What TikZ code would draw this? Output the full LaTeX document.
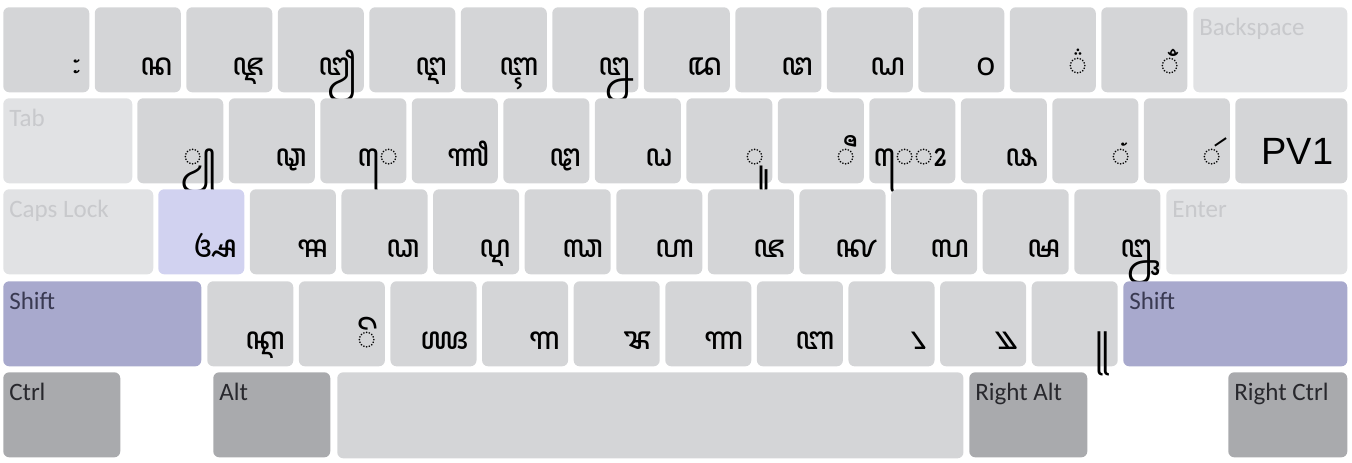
\documentclass[tikz,border=0pt]{standalone}
\usepackage{fontspec}
\setmainfont{Carlito}
\newfontfamily\pvfont{Liberation Sans}
\IfFontExistsTF{Noto Sans Javanese}
  {\newfontfamily\javfont[Script=Javanese]{Noto Sans Javanese}}
  {\newfontfamily\javfont{DejaVu Sans}}
\usetikzlibrary{positioning}

\definecolor{keygray}{RGB}{212,213,215}
\definecolor{dimfill}{RGB}{225,226,228}
\definecolor{dimtext}{RGB}{200,201,204}
\definecolor{shiftfill}{RGB}{168,169,205}
\definecolor{shifttext}{RGB}{58,58,82}
\definecolor{ctrlfill}{RGB}{169,170,173}
\definecolor{ctrltext}{RGB}{40,40,45}
\definecolor{hotfill}{RGB}{209,210,240}

\tikzset{
  keycap/.style={fill=keygray, rounded corners=0.15cm, anchor=north west,
    inner sep=0pt, minimum width=2.15cm, minimum height=2.125cm},
  hotkey/.style={keycap, fill=hotfill},
  dimkey/.style={keycap, fill=dimfill},
  shiftkey/.style={keycap, fill=shiftfill},
  ctrlkey/.style={keycap, fill=ctrlfill},
  glyph/.style={inner sep=0pt, anchor=base east, font=\javfont\fontsize{23}{26}\selectfont},
  keylabel/.style={inner sep=0pt, anchor=base west, font=\fontsize{17.8}{20}\selectfont}
}

% glyph key: [style]{name}{x}{y}{text}
\newcommand{\jkey}[5][keycap]{%
  \node[#1] (#2) at (#3,#4) {};
  \node[glyph] at ([xshift=-0.2cm, yshift=0.425cm]#2.south east) {#5};}
% function key: {style}{text colour}{name}{x}{y}{width}{label}
\newcommand{\fkey}[7]{%
  \node[#1, minimum width={#6*0.025cm}] (#3) at (#4,#5) {};
  \node[keylabel, text=#2] at ([xshift=0.15cm, yshift=-0.7cm]#3.north west) {#7};}

\begin{document}
\begin{tikzpicture}[x=0.025cm, y=-0.025cm]
\useasboundingbox (0,0) rectangle (1352,462);

% number row
\jkey{kgrave}{3}{7}{꧇}
\jkey{kone}{94.5}{7}{ꦤ}
\jkey{ktwo}{186}{7}{ꦘ}
\jkey{kthree}{277.5}{7}{ꦙ}
\jkey{kfour}{369}{7}{ꦅ}
\jkey{kfive}{460.5}{7}{ꦇ}
\jkey{ksix}{552}{7}{ꦊ}
\jkey{kseven}{643.5}{7}{ꦢ}
\jkey{keight}{735}{7}{ꦜ}
\jkey{knine}{826.5}{7}{ꦝ}
\jkey{kzero}{918}{7}{꧐}
\jkey{kminus}{1009.5}{7}{◌꦳}
\jkey{kequal}{1101}{7}{◌ꦀ}
\fkey{dimkey}{dimtext}{kbksp}{1193}{7}{154}{Backspace}

% top letter row
\fkey{dimkey}{dimtext}{ktab}{3}{98}{129}{Tab}
\jkey{kq}{137}{98}{◌ꦾ}
\jkey{kw}{228.5}{98}{ꦡ}
\jkey{ke}{320}{98}{◌ꦺ}
\jkey{kr}{411.5}{98}{ꦬ}
\jkey{kt}{503}{98}{ꦛ}
\jkey{ky}{594.5}{98}{ꦞ}
\jkey{ku}{686}{98}{◌ꦸ}
\jkey{ki}{777.5}{98}{◌ꦷ}
\jkey{ko}{869}{98}{◌ꦺ◌ꦴ}
\jkey{kp}{960.5}{98}{ꦦ}
\jkey{klbrack}{1052}{98}{◌ꦁ}
\jkey{krbrack}{1143.5}{98}{◌ꦂ}
\node[keycap, minimum width=2.8cm] (kbslash) at (1235,98) {};
\node[inner sep=0pt, anchor=base east, font=\pvfont\fontsize{27}{30}\selectfont]
  at ([xshift=-0.35cm, yshift=0.475cm]kbslash.south east) {PV1};

% home row
\fkey{dimkey}{dimtext}{kcaps}{3}{189}{150}{Caps Lock}
\jkey[hotkey]{ka}{158}{189}{ꦄ}
\jkey{ks}{249.6}{189}{ꦯ}
\jkey{kd}{341.2}{189}{ꦣ}
\jkey{kf}{432.8}{189}{ꦉ}
\jkey{kg}{524.4}{189}{ꦓ}
\jkey{kh}{616}{189}{ꦲ}
\jkey{kj}{707.6}{189}{ꦗ}
\jkey{kk}{799.2}{189}{ꦑ}
\jkey{kl}{890.8}{189}{ꦭ}
\jkey{ksemi}{982.4}{189}{ꦰ}
\jkey{kquote}{1074}{189}{ꦋ}
\fkey{dimkey}{dimtext}{kenter}{1166}{189}{181}{Enter}

% bottom letter row
\fkey{shiftkey}{shifttext}{klshift}{3}{281}{198}{Shift}
\jkey{kz}{207}{281}{ꦐ}
\jkey{kx}{298.6}{281}{◌ꦼ}
\jkey{kc}{390.2}{281}{ꦖ}
\jkey{kv}{481.8}{281}{ꦒ}
\jkey{kb}{573.4}{281}{ꦨ}
\jkey{kn}{665}{281}{ꦟ}
\jkey{km}{756.6}{281}{ꦧ}
\jkey{kcomma}{848.2}{281}{꧈}
\jkey{kperiod}{939.8}{281}{꧉}
\jkey{kslash}{1031.4}{281}{꧋}
\fkey{shiftkey}{shifttext}{krshift}{1123}{281}{224}{Shift}

% space row
\fkey{ctrlkey}{ctrltext}{klctrl}{3}{372}{117}{Ctrl}
\fkey{ctrlkey}{ctrltext}{klalt}{213}{372}{117}{Alt}
\node[keycap, minimum width=15.65cm, minimum height=2.15cm] (kspace) at (337,372) {};
\fkey{ctrlkey}{ctrltext}{kralt}{969}{372}{118}{Right Alt}
\fkey{ctrlkey}{ctrltext}{krctrl}{1228}{372}{119}{Right Ctrl}
\end{tikzpicture}
\end{document}
